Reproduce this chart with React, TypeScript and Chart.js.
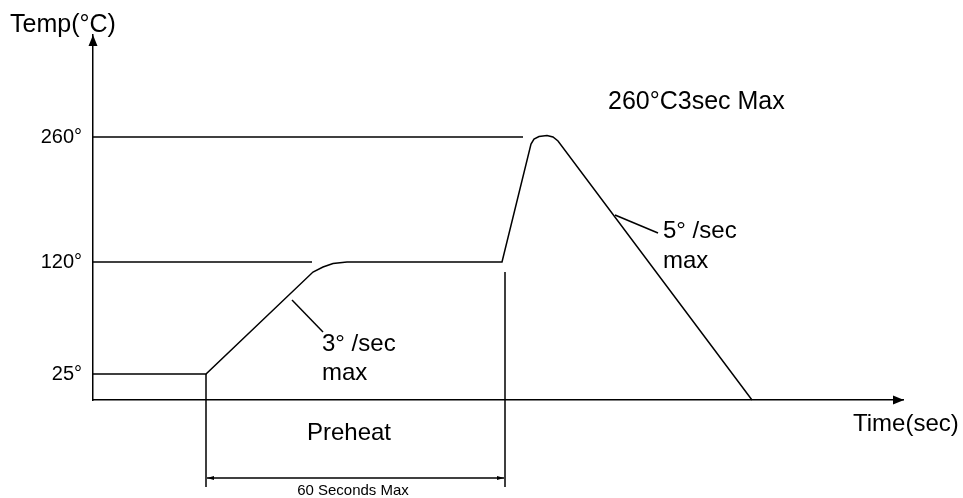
import React, { useEffect, useRef } from "react";
import { Chart, registerables } from "chart.js";

Chart.register(...registerables);

// Time axis in seconds (arbitrary origin), temperature axis in drawing "levels"
const profileTime = [0, 22.6, 44, 46, 48, 50.8, 81.8, 87.6, 88.2, 89.2, 90.8, 92, 93, 131.8];
const profileLevel = [2.6, 2.6, 12.8, 13.3, 13.65, 13.8, 13.8, 25.6, 26.1, 26.35, 26.45, 26.3, 25.9, 0];

const tempTickLabels = ["25°", "120°", "260°"];
const tempTickLevels = [2.6, 13.8, 26.3];

const ref120Time = [0, 43.8];
const ref260Time = [0, 86];

const preheatStart = 22.6;
const preheatEnd = 82.4;
const preheatMarkTop = [2.6, 12.8];
const markBottom = -8.7;
const dimLevel = -7.8;
const dimTime = [22.8, 82.2];

const leader3Time = [39.8, 46];
const leader3Level = [10, 6.8];
const leader5Time = [104.4, 113];
const leader5Level = [18.5, 16.7];

const X_MAX = 162;
const Y_MAX = 36.5;

const FONT = "'Liberation Sans', Arial, sans-serif";

export default function App() {
  const ref = useRef<HTMLCanvasElement | null>(null);

  useEffect(() => {
    document.body.style.margin = "0";
    document.body.style.overflow = "hidden";
    const canvas = ref.current;
    if (!canvas) return;

    const line = (data: { x: number; y: number }[]) => ({
      data,
      borderColor: "#000",
      borderWidth: 1.5,
      pointRadius: 0,
      showLine: true,
      fill: false,
      clip: false as any,
      tension: 0,
    });

    const annotations = {
      id: "annotations",
      afterDraw(chart: any) {
        const { ctx } = chart;
        const xs = chart.scales.x;
        const ys = chart.scales.y;
        const px = (t: number) => xs.getPixelForValue(t);
        const py = (l: number) => ys.getPixelForValue(l);
        ctx.save();
        ctx.fillStyle = "#000";
        ctx.strokeStyle = "#000";

        // axis arrowheads
        const ax = px(0);
        const ayTop = py(Y_MAX);
        ctx.beginPath();
        ctx.moveTo(ax, ayTop);
        ctx.lineTo(ax - 4.5, ayTop + 11);
        ctx.lineTo(ax + 4.5, ayTop + 11);
        ctx.closePath();
        ctx.fill();
        const bx = px(X_MAX);
        const by = py(0);
        ctx.beginPath();
        ctx.moveTo(bx + 1, by);
        ctx.lineTo(bx - 10, by - 4.5);
        ctx.lineTo(bx - 10, by + 4.5);
        ctx.closePath();
        ctx.fill();

        // dimension arrowheads
        const dy = py(dimLevel);
        const d0 = px(dimTime[0]);
        const d1 = px(dimTime[1]);
        ctx.beginPath();
        ctx.moveTo(d0, dy);
        ctx.lineTo(d0 + 7, dy - 2);
        ctx.lineTo(d0 + 7, dy + 2);
        ctx.closePath();
        ctx.fill();
        ctx.beginPath();
        ctx.moveTo(d1, dy);
        ctx.lineTo(d1 - 7, dy - 2);
        ctx.lineTo(d1 - 7, dy + 2);
        ctx.closePath();
        ctx.fill();

        const text = (s: string, t: number, l: number, size: number, align: CanvasTextAlign = "left") => {
          ctx.font = `${size}px ${FONT}`;
          ctx.textAlign = align;
          ctx.textBaseline = "alphabetic";
          ctx.fillText(s, px(t), py(l));
        };
        text("Temp(°C)", -16.6, 36.8, 25);
        text("260°C3sec Max", 103, 29.15, 25);
        text("3° /sec", 45.8, 4.9, 24);
        text("max", 45.8, 2.0, 24);
        text("5° /sec", 114, 16.2, 24);
        text("max", 114, 13.2, 24);
        text("Time(sec)", 152, -3.1, 24);
        text("Preheat", 51.2, -4.0, 24, "center");
        text("60 Seconds Max", 52, -9.5, 15, "center");
        ctx.restore();
      },
    };

    const chart = new Chart(canvas, {
      type: "scatter",
      data: {
        datasets: [
          line(profileTime.map((t, i) => ({ x: t, y: profileLevel[i] }))),
          line(ref120Time.map((t) => ({ x: t, y: tempTickLevels[1] }))),
          line(ref260Time.map((t) => ({ x: t, y: tempTickLevels[2] }))),
          line([
            { x: preheatStart, y: preheatMarkTop[0] },
            { x: preheatStart, y: markBottom },
          ]),
          line([
            { x: preheatEnd, y: preheatMarkTop[1] },
            { x: preheatEnd, y: markBottom },
          ]),
          line(dimTime.map((t) => ({ x: t, y: dimLevel }))),
          line(leader3Time.map((t, i) => ({ x: t, y: leader3Level[i] }))),
          line(leader5Time.map((t, i) => ({ x: t, y: leader5Level[i] }))),
        ],
      },
      options: {
        responsive: false,
        animation: false,
        events: [],
        layout: { padding: { left: 0, right: 60, top: 35, bottom: 98 } },
        plugins: { legend: { display: false }, tooltip: { enabled: false } },
        scales: {
          x: {
            type: "linear",
            min: 0,
            max: X_MAX,
            grid: { display: false, drawTicks: false },
            border: { display: true, color: "#000", width: 1.5 },
            ticks: { display: false },
          },
          y: {
            type: "linear",
            min: 0,
            max: Y_MAX,
            grid: { display: false, drawTicks: false },
            border: { display: true, color: "#000", width: 1.5 },
            afterBuildTicks: (scale: any) => {
              scale.ticks = tempTickLevels.map((v) => ({ value: v }));
            },
            afterFit: (scale: any) => {
              scale.width = 93;
            },
            ticks: {
              padding: 11,
              color: "#000",
              font: { family: FONT, size: 20 },
              callback: (v: any) => {
                const i = tempTickLevels.indexOf(Number(v));
                return i >= 0 ? tempTickLabels[i] : "";
              },
            },
          },
        },
      },
      plugins: [annotations],
    } as any);

    return () => chart.destroy();
  }, []);

  return (
    <div style={{ width: 963, height: 498, background: "#fff" }}>
      <canvas ref={ref} width={963} height={498} style={{ display: "block" }} />
    </div>
  );
}
